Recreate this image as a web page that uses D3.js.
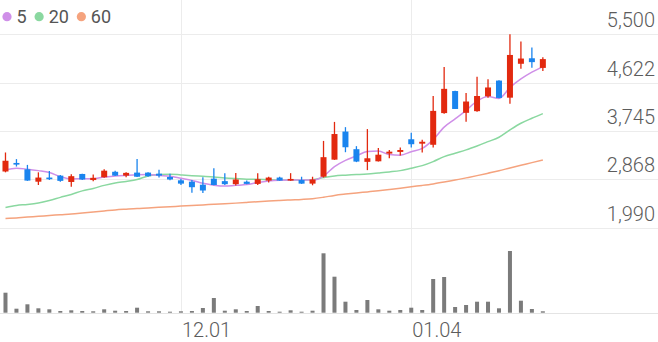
<!DOCTYPE html>
<html>
<head>
<meta charset="utf-8">
<script src="https://cdn.jsdelivr.net/npm/d3@7/dist/d3.min.js"></script>
<style>
  html, body { margin: 0; padding: 0; background: #fff; }
  svg { display: block; font-family: Roboto, "Noto Sans", sans-serif; }
</style>
</head>
<body>
<div id="chart"></div>
<script>
const W = 658, H = 342;

const dates = [
  "11.09","11.10","11.13","11.14","11.15","11.16","11.17","11.20","11.21","11.22",
  "11.23","11.24","11.27","11.28","11.29","11.30","12.01","12.04","12.05","12.06",
  "12.07","12.08","12.11","12.12","12.13","12.14","12.15","12.18","12.19","12.20",
  "12.21","12.22","12.26","12.27","12.28","01.02","01.03","01.04","01.05","01.08",
  "01.09","01.10","01.11","01.12","01.15","01.16","01.17","01.18","01.19","01.22"
];
const openP = [3010,3165,3050,2825,2900,2935,2820,2965,2855,2905,3005,2935,2990,2990,2970,2910,2850,2825,2770,2880,
  2835,2780,2825,2785,2845,2900,2845,2855,2790,2915,3225,3735,3415,3185,3195,3335,3365,3595,3515,3495,
  4070,4470,4075,4105,4375,4660,4350,4965,5065,4890];
const highP = [3355,3235,3130,2995,3020,2945,2960,2970,2955,3050,3025,2995,3235,2995,3040,2970,2875,2855,2905,3070,
  2980,2985,2845,2980,2915,2915,2980,2915,2915,3565,3910,3815,3470,3780,3435,3400,3445,3715,3585,4380,
  4905,4475,4435,4730,4685,4665,5500,5370,5260,5085];
const lowP = [2995,3100,2840,2765,2855,2825,2735,2855,2835,2895,2930,2905,2910,2915,2900,2850,2765,2625,2620,2760,
  2765,2755,2780,2765,2810,2840,2840,2785,2760,2900,3220,3360,3180,3035,3190,3250,3300,3445,3355,3445,
  4060,4145,3915,4095,4350,4340,4240,4875,4895,4835];
const closeP = [3205,3135,2845,2900,2870,2840,2925,2865,2895,3025,2935,2985,2915,2925,2935,2865,2790,2725,2665,2765,
  2780,2865,2785,2870,2900,2845,2875,2790,2865,3270,3690,3450,3190,3250,3315,3370,3400,3505,3550,4110,
  4510,4145,4280,4380,4535,4345,5125,5060,4995,5050];
const volume = [2000,400,840,440,340,170,240,170,140,340,200,170,500,140,140,100,140,170,470,1470,
  200,340,170,670,170,100,240,100,200,5940,3600,1100,270,1270,340,200,270,500,270,3370,
  3570,570,770,1100,1100,440,6170,1200,370,140];
const ma5 = [3039,3070,3052,3026,2992,2917,2876,2879,2877,2910,2928,2941,2952,2957,2939,2925,2886,2848,2796,2761,
  2745,2759,2772,2812,2839,2852,2856,2856,2854,2928,3099,3213,3293,3371,3380,3317,3306,3369,3429,3589,
  3816,3965,4119,4286,4369,4337,4533,4689,4812,4914];
const ma20 = [2358,2395,2413,2440,2485,2540,2594,2658,2703,2758,2803,2830,2863,2930,2957,2961,2948,2935,2924,2912,
  2894,2881,2870,2870,2862,2857,2857,2857,2862,2899,2930,2943,2954,2966,2984,3003,3026,3070,3117,3190,
  3280,3342,3402,3474,3552,3632,3765,3886,3977,4061];
const ma60 = [2155,2168,2182,2197,2211,2226,2240,2258,2277,2295,2313,2327,2340,2349,2360,2371,2382,2393,2404,2414,
  2425,2436,2449,2462,2473,2484,2494,2503,2516,2543,2576,2600,2621,2640,2660,2683,2707,2734,2758,2785,
  2818,2854,2894,2935,2979,3024,3075,3124,3171,3220];

const yTicks = [5500, 4622, 3745, 2868, 1990];
const xTicks = ["12.01", "01.04"];
const maNames = ["5", "20", "60"];
const maColors = ["#cf8fe8", "#8ad8a0", "#f5a37e"];
const upColor = "#e2290f", downColor = "#1a84ee";
const slots = 60;

const svg = d3.select("#chart").append("svg")
  .attr("width", W).attr("height", H);

const x = d3.scaleBand()
  .domain(d3.range(slots))
  .range([0, W]);
const xc = i => x(i) + x.bandwidth() / 2;

const y = d3.scaleLinear()
  .domain([1990, 5500])
  .range([227.7, 34.3]);

const yVol = d3.scaleLinear()
  .domain([0, d3.max(volume)])
  .range([312.7, 251]);

// grid
const grid = svg.append("g");
grid.selectAll(".hg").data(yTicks).enter().append("line")
  .attr("x1", 0).attr("x2", W)
  .attr("y1", d => Math.round(y(d)) + 0.5).attr("y2", d => Math.round(y(d)) + 0.5)
  .attr("stroke", "#ececec").attr("stroke-width", 1);
grid.selectAll(".vg").data(xTicks).enter().append("line")
  .attr("x1", d => Math.round(xc(dates.indexOf(d))) + 0.5)
  .attr("x2", d => Math.round(xc(dates.indexOf(d))) + 0.5)
  .attr("y1", 0).attr("y2", yVol(0))
  .attr("stroke", "#ececec").attr("stroke-width", 1);
grid.append("line")
  .attr("x1", 0).attr("x2", W)
  .attr("y1", Math.round(yVol(0)) + 0.5).attr("y2", Math.round(yVol(0)) + 0.5)
  .attr("stroke", "#e4e4e4");

// y labels
svg.selectAll(".ylab").data(yTicks).enter().append("text")
  .attr("x", 655).attr("y", d => y(d) - 7)
  .attr("text-anchor", "end")
  .attr("fill", "#5c5c5c")
  .style("font-size", "20px")
  .style("font-weight", 300)
  .text(d3.format(","));

// x labels
svg.selectAll(".xlab").data(xTicks).enter().append("text")
  .attr("x", d => xc(dates.indexOf(d)) + 1)
  .attr("y", 336.5)
  .attr("fill", "#5c5c5c")
  .style("font-size", "20px")
  .style("font-weight", 300)
  .text(d => d);

// volume
svg.append("g").selectAll("rect").data(volume).enter().append("rect")
  .attr("x", (d, i) => xc(i) - 2)
  .attr("width", 4)
  .attr("y", d => yVol(d))
  .attr("height", d => yVol(0) - yVol(d))
  .attr("fill", "#7b7b7b");

// moving averages
const line = d3.line()
  .x((d, i) => xc(i))
  .y(d => y(d))
  .curve(d3.curveMonotoneX);
[ma60, ma20, ma5].forEach((s, k) => {
  svg.append("path")
    .datum(s)
    .attr("d", line)
    .attr("fill", "none")
    .attr("stroke", maColors[2 - k])
    .attr("stroke-width", 1.5);
});

// candles
const candles = svg.append("g").selectAll("g").data(dates).enter().append("g");
const col = i => closeP[i] >= openP[i] ? upColor : downColor;
candles.append("line")
  .attr("x1", (d, i) => xc(i)).attr("x2", (d, i) => xc(i))
  .attr("y1", (d, i) => y(highP[i])).attr("y2", (d, i) => y(lowP[i]))
  .attr("stroke", (d, i) => col(i))
  .attr("stroke-width", 1.3);
candles.append("rect")
  .attr("x", (d, i) => xc(i) - 3)
  .attr("width", 6)
  .attr("y", (d, i) => y(Math.max(openP[i], closeP[i])))
  .attr("height", (d, i) => Math.max(1.5, Math.abs(y(openP[i]) - y(closeP[i]))))
  .attr("fill", (d, i) => col(i));

// legend
const leg = svg.append("g");
let lx = 7;
maNames.forEach((n, k) => {
  leg.append("circle").attr("cx", lx).attr("cy", 16.7).attr("r", 4.6).attr("fill", maColors[k]);
  const t = leg.append("text").attr("x", lx + 9.5).attr("y", 23.3)
    .attr("fill", "#555").style("font-size", "18px").text(n);
  lx += 9.5 + t.node().getComputedTextLength() + 12.5;
});
</script>
</body>
</html>
